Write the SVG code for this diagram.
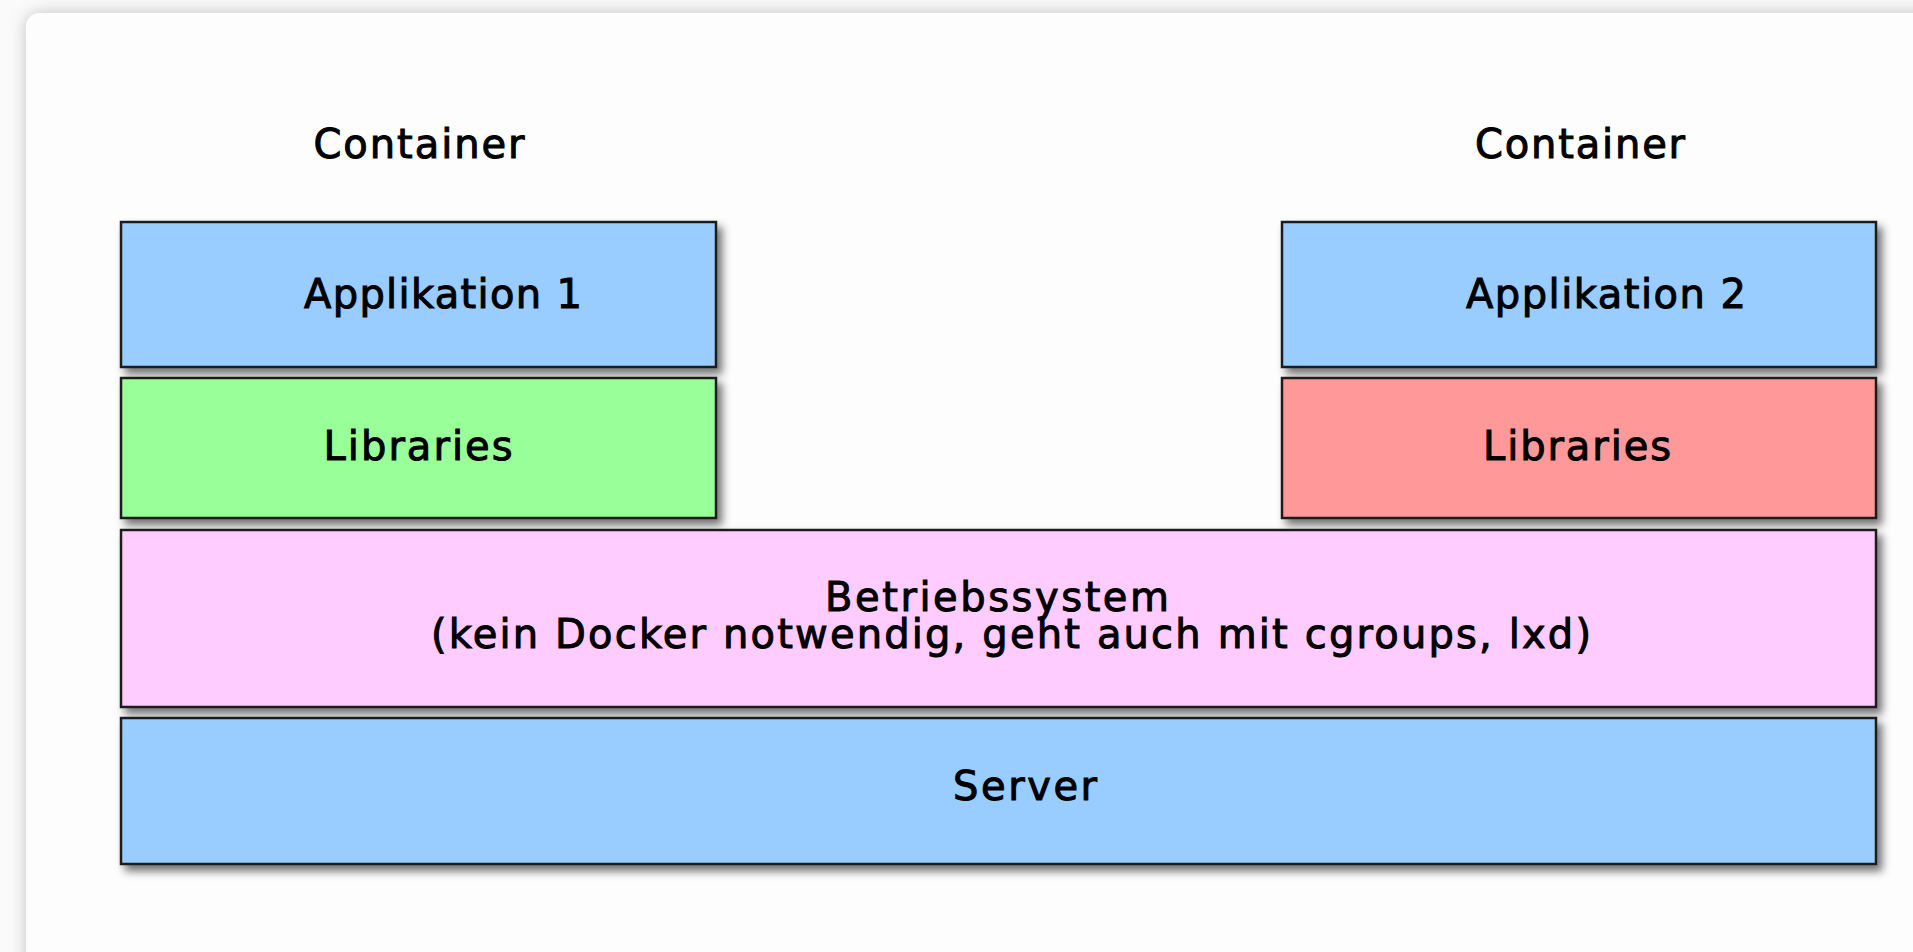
<svg xmlns="http://www.w3.org/2000/svg" width="1913" height="952" viewBox="0 0 1913 952">
  <defs>
    <filter id="cardShadow" x="-5%" y="-5%" width="110%" height="110%">
      <feDropShadow dx="0" dy="0" stdDeviation="8" flood-color="#000" flood-opacity="0.22"/>
    </filter>
    <filter id="boxShadow" x="-5%" y="-10%" width="110%" height="130%">
      <feDropShadow dx="5" dy="6" stdDeviation="4" flood-color="#000" flood-opacity="0.55"/>
    </filter>
  </defs>
  <style>
    .box { stroke: #1a1a1a; stroke-width: 2.5; filter: url(#boxShadow); }
    .blue { fill: #99ccff; }
    .green { fill: #99ff99; }
    .red { fill: #ff9999; }
    .pink { fill: #ffccff; }
    .lbl { font-family: "DejaVu Sans", "Liberation Sans", sans-serif; font-size: 40px; fill: #000; stroke: #000; stroke-width: 1; text-anchor: middle; }
  </style>

  <!-- page background and card -->
  <rect x="0" y="0" width="1913" height="952" fill="#fafafa"/>
  <rect x="26" y="13" width="1930" height="960" rx="14" ry="14" fill="#fdfdfd" filter="url(#cardShadow)"/>

  <!-- container captions -->
  <g id="caption-left">
    <text class="lbl" x="419" y="158" textLength="211" lengthAdjust="spacing">Container</text>
  </g>
  <g id="caption-right">
    <text class="lbl" x="1580" y="158" textLength="210" lengthAdjust="spacing">Container</text>
  </g>

  <!-- left container stack -->
  <g id="app1">
    <rect class="box blue" x="121" y="222" width="595" height="145"/>
    <text class="lbl" x="443" y="308" textLength="278" lengthAdjust="spacing">Applikation 1</text>
  </g>
  <g id="libs1">
    <rect class="box green" x="121" y="378" width="595" height="140"/>
    <text class="lbl" x="418" y="460" textLength="189" lengthAdjust="spacing">Libraries</text>
  </g>

  <!-- right container stack -->
  <g id="app2">
    <rect class="box blue" x="1282" y="222" width="594" height="145"/>
    <text class="lbl" x="1606" y="308" textLength="280" lengthAdjust="spacing">Applikation 2</text>
  </g>
  <g id="libs2">
    <rect class="box red" x="1282" y="378" width="594" height="140"/>
    <text class="lbl" x="1577" y="460" textLength="188" lengthAdjust="spacing">Libraries</text>
  </g>

  <!-- shared layers -->
  <g id="os">
    <rect class="box pink" x="121" y="530" width="1755" height="177"/>
    <text class="lbl" x="997" y="611" textLength="344" lengthAdjust="spacing">Betriebssystem</text>
    <text class="lbl" x="1011" y="648" textLength="1160" lengthAdjust="spacing">(kein Docker notwendig, geht auch mit cgroups, lxd)</text>
  </g>
  <g id="server">
    <rect class="box blue" x="121" y="718" width="1755" height="146"/>
    <text class="lbl" x="1025" y="800" textLength="144" lengthAdjust="spacing">Server</text>
  </g>

  <!-- no connectors in this diagram -->
  <g id="connectors"/>
</svg>
